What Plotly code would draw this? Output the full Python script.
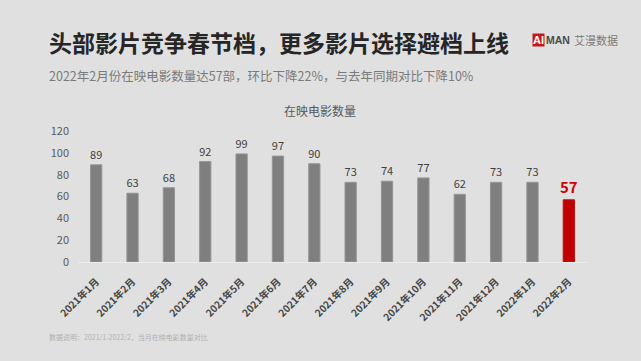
import plotly.graph_objects as go

months = ["2021年1月", "2021年2月", "2021年3月", "2021年4月", "2021年5月", "2021年6月",
          "2021年7月", "2021年8月", "2021年9月", "2021年10月", "2021年11月", "2021年12月",
          "2022年1月", "2022年2月"]
films = [89, 63, 68, 92, 99, 97, 90, 73, 74, 77, 62, 73, 73, 57]
y_ticks = [0, 20, 40, 60, 80, 100, 120]

FONT = "Noto Sans CJK SC"
BG = "#e0e0e0"
W, H = 641, 361
L, R, T, B = 78, 54, 131, 99

def px(x):
    return (x - L) / (W - L - R)

def py(y):
    return (H - B - y) / (H - T - B)

n = len(films)
bar_colors = ["#7f7f7f"] * (n - 1) + ["#c00000"]
line_colors = ["#959595"] * (n - 1) + ["#c81010"]
txt_colors = ["#404040"] * (n - 1) + ["#d00000"]
txt_sizes = [11] * (n - 1) + [15]
labels = [str(v) for v in films[:-1]] + ["<b>%d</b>" % films[-1]]

fig = go.Figure(go.Bar(
    x=months, y=films, width=0.31,
    marker=dict(color=bar_colors, line=dict(color=line_colors, width=1)),
    text=labels, textposition="outside", constraintext="none",
    textfont=dict(family=FONT, color=txt_colors, size=txt_sizes),
    cliponaxis=False,
))

fig.update_layout(
    width=W, height=H,
    margin=dict(l=L, r=R, t=T, b=B),
    paper_bgcolor=BG, plot_bgcolor="rgba(0,0,0,0)",
    font=dict(family=FONT, color="#404040"),
    showlegend=False,
    xaxis=dict(tickangle=-45, tickvals=months, ticktext=["<b>%s</b>" % m for m in months],
               tickfont=dict(size=10, color="#454545"), ticklabelstandoff=9,
               showline=True, linecolor="#ececec", linewidth=1, showgrid=False,
               ticks="", automargin=False),
    yaxis=dict(range=[0, 120], tickvals=y_ticks, tickfont=dict(size=11, color="#595959"),
               showgrid=False, zeroline=False, showline=False, ticklabelstandoff=8,
               automargin=False),
)

ann = []
ann.append(dict(x=px(47), y=py(42), xref="paper", yref="paper", xanchor="left", yanchor="middle",
                text="<b>头部影片竞争春节档，更多影片选择避档上线</b>", showarrow=False,
                font=dict(family=FONT, size=23, color="#262626")))
ann.append(dict(x=px(47), y=py(75), xref="paper", yref="paper", xanchor="left", yanchor="middle",
                text="2022年2月份在映电影数量达57部，环比下降22%，与去年同期对比下降10%", showarrow=False,
                font=dict(family=FONT, size=12.5, color="#7a7a7a")))
ann.append(dict(x=px(320), y=py(110), xref="paper", yref="paper", xanchor="center", yanchor="middle",
                text="在映电影数量", showarrow=False,
                font=dict(family=FONT, size=12, color="#595959")))
ann.append(dict(x=px(47), y=py(337), xref="paper", yref="paper", xanchor="left", yanchor="middle",
                text="数据说明：2021/1-2022/2，当月在映电影数量对比", showarrow=False,
                font=dict(family=FONT, size=7, color="#b0b0b0")))
# logo
ann.append(dict(x=px(538), y=py(40), xref="paper", yref="paper", xanchor="center", yanchor="middle",
                text="<b>AI</b>", showarrow=False, bgcolor="#c8161d", borderpad=0,
                font=dict(family="Liberation Sans", size=11, color="#ffffff")))
ann.append(dict(x=px(544), y=py(40), xref="paper", yref="paper", xanchor="left", yanchor="middle",
                text="<b>MAN</b>", showarrow=False,
                font=dict(family="Liberation Sans", size=10.5, color="#4a4a4a")))
ann.append(dict(x=px(572), y=py(40), xref="paper", yref="paper", xanchor="left", yanchor="middle",
                text="艾漫数据", showarrow=False,
                font=dict(family=FONT, size=11, color="#7a7a7a")))
fig.update_layout(annotations=ann)

fig.write_html("out.html", config={"displayModeBar": False},
               post_script="document.body.style.margin='0';document.body.style.background='%s';" % BG)
